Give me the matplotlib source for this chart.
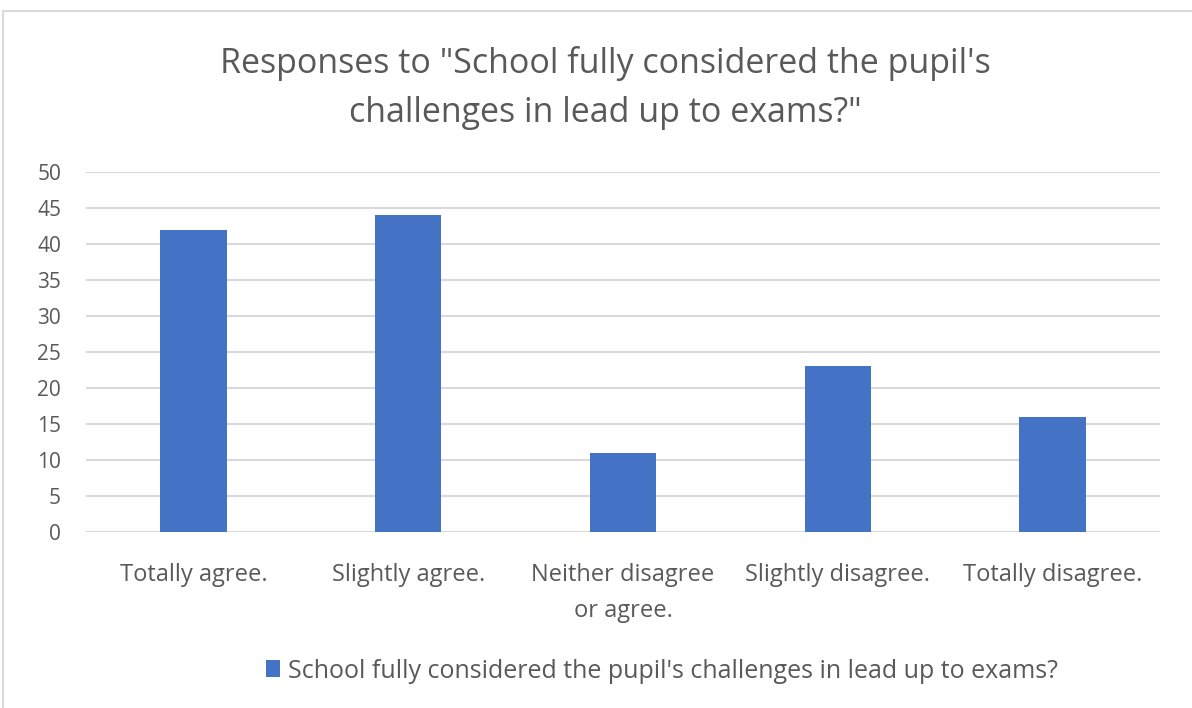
import matplotlib
matplotlib.use("Agg")
import matplotlib.pyplot as plt
from matplotlib.patches import Rectangle

categories = ["Totally agree.", "Slightly agree.", "Neither disagree\nor agree.", "Slightly disagree.", "Totally disagree."]
values = [42, 44, 11, 23, 16]
yticks = [0, 5, 10, 15, 20, 25, 30, 35, 40, 45, 50]
title = "Responses to \"School fully considered the pupil's\nchallenges in lead up to exams?\""
series_name = "School fully considered the pupil's challenges in lead up to exams?"

plt.rcParams['font.family'] = ['Open Sans', 'DejaVu Sans']
W, H = 1192, 708
fig = plt.figure(figsize=(W/100, H/100), dpi=100)
fig.patch.set_facecolor('white')

# outer chart border
fig.add_artist(Rectangle((3/W, -0.05), 1.2, (H-11)/H + 0.05, transform=fig.transFigure,
                         fill=False, edgecolor='#d9d9d9', lw=1.5))

ax = fig.add_axes([86/W, (H-532)/H, (1160-86)/W, (532-172)/H])
x = list(range(len(categories)))
bars = ax.bar(x, values, width=0.31, color='#4472C4', zorder=3, label=series_name)
ax.set_xlim(-0.5, len(categories)-0.5)
ax.set_ylim(0, 50)
ax.set_yticks(yticks)
ax.yaxis.grid(True, color='#d9d9d9', lw=1.5, zorder=0)
for s in ax.spines.values():
    s.set_visible(False)
ax.tick_params(axis='both', length=0, colors='#595959')
ax.tick_params(axis='y', pad=18, labelsize=15)
ax.tick_params(axis='x', pad=22)
ax.set_xticks(x)
ax.set_xticklabels(categories, fontsize=17, color='#595959', linespacing=1.7)

fig.text(605/W, 1 - 88/H, title, ha='center', va='center', fontsize=24.5,
         color='#595959', linespacing=1.55)

leg = fig.legend(handles=[bars], labels=[series_name], loc='center',
                 bbox_to_anchor=(662/W, 1 - 671/H), frameon=False, fontsize=18,
                 handlelength=0.55, handleheight=0.65, handletextpad=0.3, labelcolor='#595959')

fig.savefig("out.png", dpi=100)
